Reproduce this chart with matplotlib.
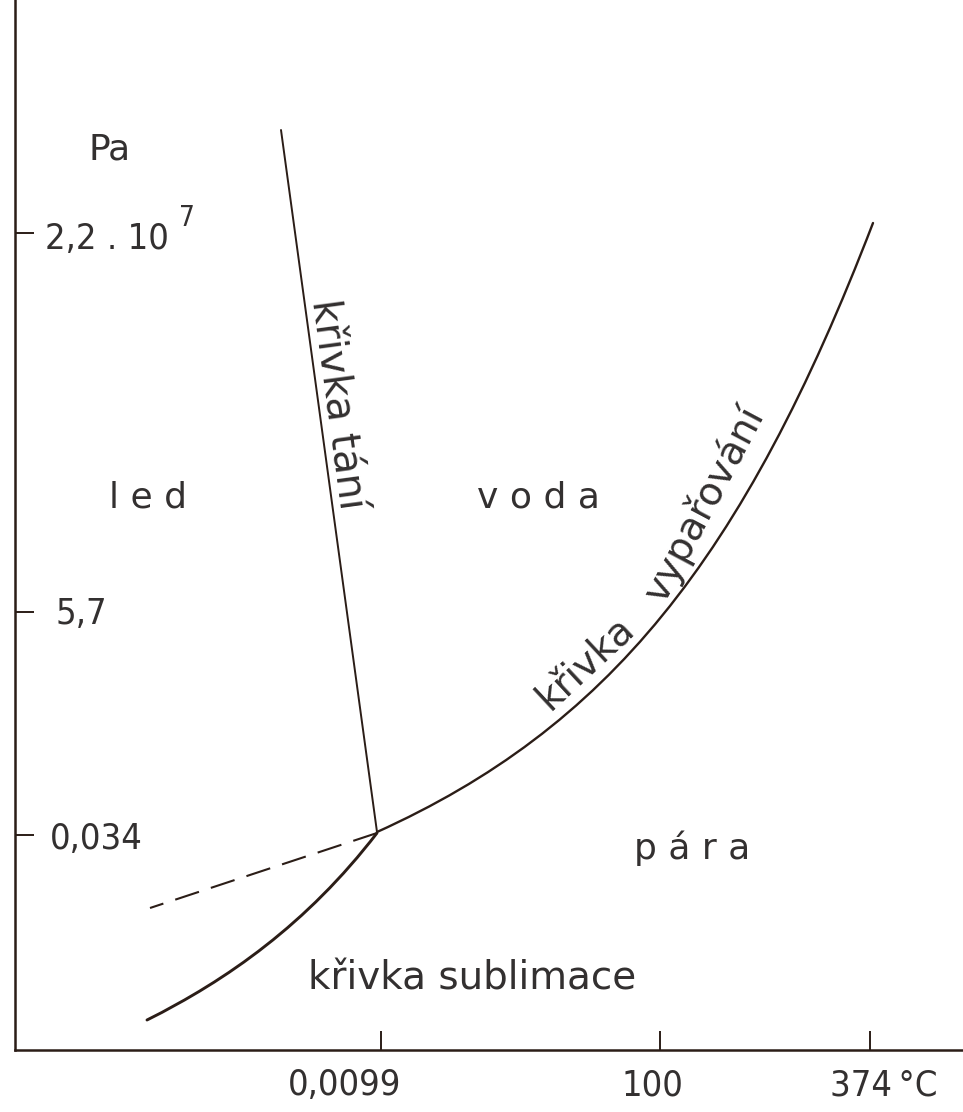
import matplotlib
matplotlib.use("Agg")
import matplotlib.pyplot as plt
from matplotlib.path import Path
from matplotlib.patches import PathPatch

# ---- data (schematic diagram coordinates; y grows downward) ----
# melting curve (straight line from top to triple point)
melt_x = [281, 377]
melt_y = [130, 832]

# vaporisation curve: triple point -> critical point, as a cubic Bezier (end, ctrl, ctrl, end)
vap_x = [377, 607, 743, 873]
vap_y = [832, 728, 561, 223]

# sublimation curve: triple point -> low-temperature end, cubic Bezier
sub_x = [377, 307, 227, 147]
sub_y = [833, 924, 980, 1020]

# metastable (supercooled water) dashed extension
meta_x = [377, 150]
meta_y = [833, 908]

ytick_pos = [233, 612, 835]
ytick_labels = ["2,2 . 10", "5,7", "0,034"]
ytick_exp = "7"
xtick_pos = [381, 660, 870]
xtick_labels = ["0,0099", "100", "374\u2009°C"]
unit_label = "Pa"

ink = "#2b1d17"
txt = "#333030"
FONT = ["DejaVu Sans"]

fig = plt.figure(figsize=(9.63, 11.12), dpi=100)
fig.patch.set_facecolor("white")
ax = fig.add_axes([15 / 963, 62 / 1112, 948 / 963, 1050 / 1112])
ax.set_xlim(15, 963)
ax.set_ylim(1050, 0)
ax.set_facecolor("white")

for s in ["top", "right"]:
    ax.spines[s].set_visible(False)
for s in ["left", "bottom"]:
    ax.spines[s].set_linewidth(1.8)
    ax.spines[s].set_color(ink)

ax.set_xticks(xtick_pos)
ax.set_yticks(ytick_pos)
ax.tick_params(axis="both", direction="in", length=14, width=1.4, color=ink,
               labelleft=False, labelbottom=False)

# curves
ax.plot(melt_x, melt_y, color=ink, lw=1.4, solid_capstyle="round")

codes = [Path.MOVETO, Path.CURVE4, Path.CURVE4, Path.CURVE4]
vap_path = Path(list(zip(vap_x, vap_y)), codes)
ax.add_patch(PathPatch(vap_path, facecolor="none", edgecolor=ink, lw=1.7,
                       capstyle="round"))
sub_path = Path(list(zip(sub_x, sub_y)), codes)
ax.add_patch(PathPatch(sub_path, facecolor="none", edgecolor=ink, lw=2.1,
                       capstyle="round"))

ax.plot(meta_x, meta_y, color=ink, lw=1.5, linestyle=(0, (12, 6)))

# y tick labels
lab_kw = dict(color=txt, family=FONT, fontstretch="condensed", fontsize=26)
ax.text(45, ytick_pos[0] + 6, ytick_labels[0], ha="left", va="center", **lab_kw)
ax.text(179, ytick_pos[0] - 15, ytick_exp, ha="left", va="center", color=txt,
        family=FONT, fontstretch="condensed", fontsize=20)
ax.text(55, ytick_pos[1] + 2, ytick_labels[1], ha="left", va="center", **lab_kw)
ax.text(50, ytick_pos[2] + 4, ytick_labels[2], ha="left", va="center", **lab_kw)
ax.text(110, 149, unit_label, ha="center", va="center", color=txt, family=FONT,
        fontsize=26)

# x tick labels
ax.text(xtick_pos[0] - 36, 1085, xtick_labels[0], ha="center", va="center", **lab_kw)
ax.text(xtick_pos[1] - 8, 1085, xtick_labels[1], ha="center", va="center", **lab_kw)
ax.text(xtick_pos[2] - 40, 1085, xtick_labels[2], ha="left", va="center", **lab_kw)

# region labels
reg_kw = dict(color=txt, family=FONT, fontsize=26)
ax.text(148, 497, "l e d", ha="center", va="center", **reg_kw)
ax.text(538, 497, "v o d a", ha="center", va="center", **reg_kw)
ax.text(692, 848, "p á r a", ha="center", va="center", **reg_kw)
ax.text(472, 979, "křivka sublimace", ha="center", va="center", color=txt,
        family=FONT, fontsize=28)

# curve labels
ax.text(338, 404, "křivka tání", ha="center", va="center", rotation=-82.3,
        rotation_mode="anchor", color=txt, family=FONT, fontsize=29)
ax.text(550, 712, "křivka", ha="left", va="baseline", rotation=43,
        rotation_mode="anchor", color=txt, family=FONT, fontsize=28)
ax.text(664, 604, "vypařování", ha="left", va="baseline", rotation=62,
        rotation_mode="anchor", color=txt, family=FONT, fontsize=28)

fig.savefig("out.png", dpi=100, facecolor="white")
